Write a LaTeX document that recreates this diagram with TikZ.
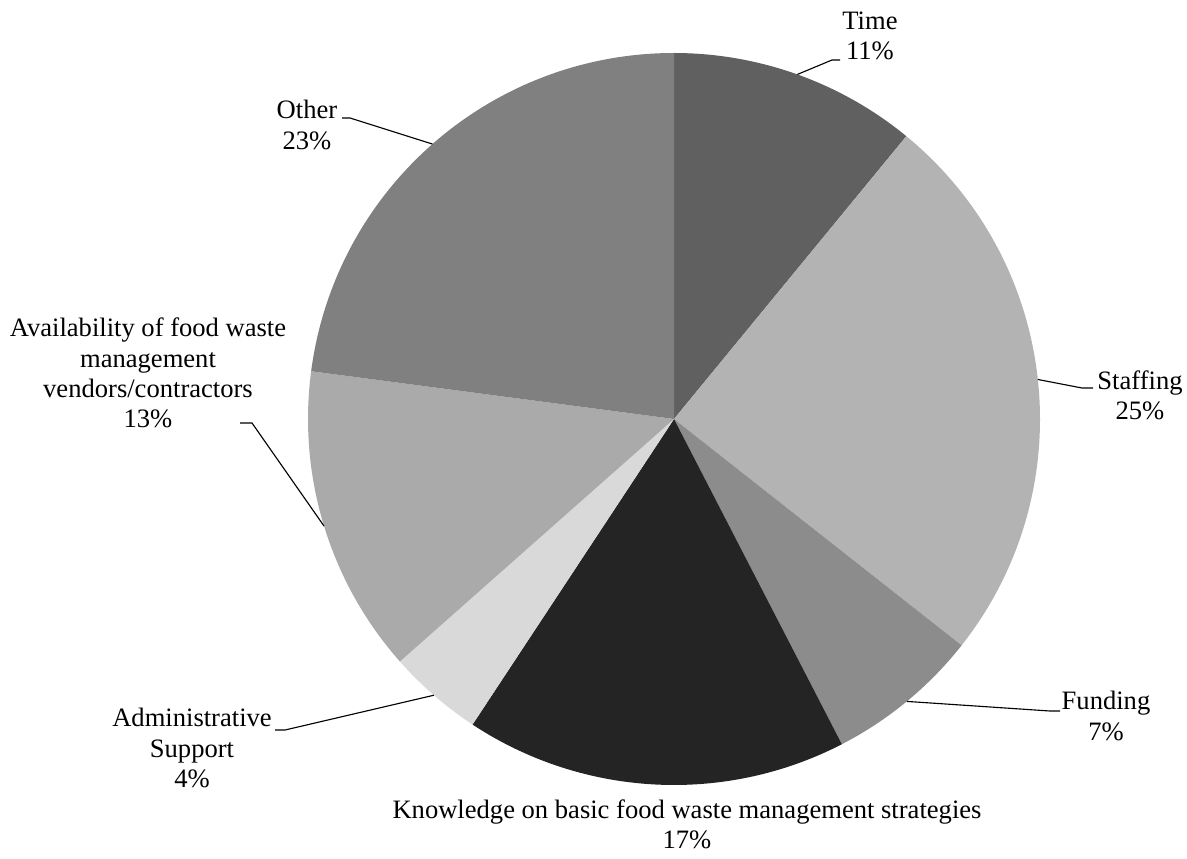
\documentclass[tikz,border=0pt]{standalone}
\usepackage{fontspec}
\setmainfont{Liberation Serif}
\usetikzlibrary{calc}
\definecolor{timegray}{RGB}{96,96,96}
\definecolor{staffgray}{RGB}{179,179,179}
\definecolor{fundgray}{RGB}{140,140,140}
\definecolor{knowgray}{RGB}{36,36,36}
\definecolor{admingray}{RGB}{217,217,217}
\definecolor{availgray}{RGB}{170,170,170}
\definecolor{othergray}{RGB}{128,128,128}
\begin{document}
\begin{tikzpicture}[x=0.025cm,y=0.025cm,
		lbl/.style={align=center,inner sep=0pt,font=\fontsize{18.9}{21.5}\selectfont},
		leader/.style={draw=black,line width=0.8pt}]
		\useasboundingbox (0,0) rectangle (1187,858);
		\coordinate (c) at (674,439);
		\foreach \a/\b/\col in {90/50.6/timegray,50.6/-38.2/staffgray,-38.2/-62.7/fundgray,-62.7/-123.4/knowgray,-123.4/-138.5/admingray,-138.5/-187.5/availgray,-187.5/-270/othergray}
		\fill[\col] (c) -- ($(c)+(\a:366)$) arc[start angle=\a, end angle=\b, radius=366] -- cycle;
		\node[lbl] (timeL) at (870,822) {Time\\11\%};
		\node[lbl] (staffL) at (1140,463) {Staffing\\25\%};
		\node[lbl] (fundL) at (1106,142) {Funding\\7\%};
		\node[lbl] (knowL) at (687,34) {Knowledge on basic food waste management strategies\\17\%};
		\node[lbl] (adminL) at (192,110) {Administrative\\Support\\4\%};
		\node[lbl] (availL) at (148,485) {Availability of food waste\\management\\vendors/contractors\\13\%};
		\node[lbl] (otherL) at (307,733) {Other\\23\%};
		\coordinate (timeE) at ($(c)+(70.3:366)$);
		\coordinate (staffE) at ($(c)+(6.2:366)$);
		\coordinate (fundE) at ($(c)+(-50.5:366)$);
		\coordinate (adminE) at ($(c)+(-131:366)$);
		\coordinate (availE) at ($(c)+(-163:366)$);
		\coordinate (otherE) at ($(c)+(131.3:366)$);
		\draw[leader] (timeE) -- (832,798) coordinate (timeK) -- (840,798) coordinate (timeT);
		\draw[leader] (staffE) -- (1082,470) coordinate (staffK) -- (1093,470) coordinate (staffT);
		\draw[leader] (fundE) -- (1050,147) coordinate (fundK) -- (1060,147) coordinate (fundT);
		\draw[leader] (adminE) -- (285,128) coordinate (adminK) -- (275,128) coordinate (adminT);
		\draw[leader] (availE) -- (252,435) coordinate (availK) -- (240,435) coordinate (availT);
		\draw[leader] (otherE) -- (350,740) coordinate (otherK) -- (342,740) coordinate (otherT);
	\end{tikzpicture}
\end{document}
